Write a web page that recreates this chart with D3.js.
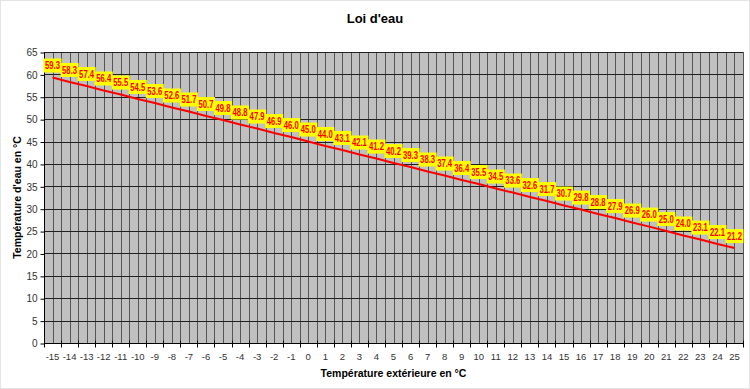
<!DOCTYPE html>
<html>
<head>
<meta charset="utf-8">
<script src="https://cdn.jsdelivr.net/npm/d3@7"></script>
<style>
  body { margin: 0; background: #fff; }
  svg { font-family: "Liberation Sans", Arial, sans-serif; }
</style>
</head>
<body>
<svg id="chart"></svg>
<script>
// outside temperature categories and water temperature
const outsideTemps = d3.range(-15, 26);
const waterTemps = [59.3, 58.3, 57.4, 56.4, 55.5, 54.5, 53.6, 52.6, 51.7, 50.7, 49.8, 48.8, 47.9, 46.9, 46.0, 45.0, 44.0, 43.1, 42.1, 41.2, 40.2, 39.3, 38.3, 37.4, 36.4, 35.5, 34.5, 33.6, 32.6, 31.7, 30.7, 29.8, 28.8, 27.9, 26.9, 26.0, 25.0, 24.0, 23.1, 22.1, 21.2];
const yTicks = d3.range(0, 70, 5);

const width = 750, height = 389;
const margin = {top: 52, right: 7, bottom: 46, left: 44};

const svg = d3.select("#chart")
    .attr("width", width)
    .attr("height", height);

svg.append("rect")
    .attr("x", 0.5).attr("y", 0.5)
    .attr("width", width - 1).attr("height", height - 1)
    .attr("fill", "#fff")
    .attr("stroke", "#e4e4e4");

const x = d3.scaleBand()
    .domain(outsideTemps)
    .range([margin.left, width - margin.right]);

const y = d3.scaleLinear()
    .domain([0, 65])
    .range([height - margin.bottom, margin.top]);

const plotW = width - margin.right - margin.left;

// plot background
svg.append("rect")
    .attr("x", margin.left)
    .attr("y", y(65))
    .attr("width", plotW)
    .attr("height", y(0) - y(65))
    .attr("fill", "#c0c0c0");

// vertical grid: category boundaries and centers
const vLines = [];
outsideTemps.forEach(t => {
    vLines.push(x(t));
    vLines.push(x(t) + x.bandwidth() / 2);
});
vLines.push(x(25) + x.bandwidth());

svg.append("g")
    .selectAll("line")
    .data(vLines)
    .join("line")
    .attr("x1", d => Math.round(d) + 0.5)
    .attr("x2", d => Math.round(d) + 0.5)
    .attr("y1", y(65))
    .attr("y2", y(0))
    .attr("stroke", "#555")
    .attr("stroke-width", 1);

// horizontal grid
svg.append("g")
    .selectAll("line")
    .data(yTicks)
    .join("line")
    .attr("x1", margin.left)
    .attr("x2", width - margin.right)
    .attr("y1", d => Math.round(y(d)) + 0.5)
    .attr("y2", d => Math.round(y(d)) + 0.5)
    .attr("stroke", "#202020");

// y axis
const yAxis = svg.append("g")
    .attr("transform", `translate(${margin.left + 0.5},0.5)`)
    .call(d3.axisLeft(y).tickValues(yTicks).tickSize(4).tickPadding(3));
yAxis.select(".domain").attr("stroke", "#000").attr("d", `M0,${y(65)}V${y(0)}`);
yAxis.selectAll("text").attr("font-size", 10).attr("fill", "#333").attr("font-family", "Liberation Sans, Arial, sans-serif");

// x axis
const xAxis = svg.append("g")
    .attr("transform", `translate(0,${Math.round(y(0)) + 0.5})`);
xAxis.append("line")
    .attr("x1", margin.left).attr("x2", width - margin.right)
    .attr("stroke", "#000");
xAxis.selectAll(".tk")
    .data(outsideTemps.map(t => x(t)).concat([x(25) + x.bandwidth()]))
    .join("line")
    .attr("class", "tk")
    .attr("x1", d => Math.round(d) + 0.5)
    .attr("x2", d => Math.round(d) + 0.5)
    .attr("y1", -3).attr("y2", 4)
    .attr("stroke", "#000");
xAxis.selectAll("text")
    .data(outsideTemps)
    .join("text")
    .attr("x", d => x(d) + x.bandwidth() / 2)
    .attr("y", 16)
    .attr("text-anchor", "middle")
    .attr("font-size", 9.5)
    .attr("fill", "#333")
    .text(d => d);

// data line
const line = d3.line()
    .x((d, i) => x(outsideTemps[i]) + x.bandwidth() / 2)
    .y(d => y(d));

svg.append("path")
    .datum(waterTemps)
    .attr("d", line)
    .attr("fill", "none")
    .attr("stroke", "#ff0000")
    .attr("stroke-width", 2);

// data labels
const labels = svg.append("g")
    .selectAll("g")
    .data(waterTemps)
    .join("g")
    .attr("transform", (d, i) => `translate(${x(outsideTemps[i]) + x.bandwidth() / 2},${y(d) - 12})`);

labels.append("rect")
    .attr("x", -9)
    .attr("y", -7)
    .attr("width", 18)
    .attr("height", 14)
    .attr("fill", "#ffff00");

labels.append("text")
    .attr("text-anchor", "middle")
    .attr("dy", "0.36em")
    .attr("font-size", 10)
    .attr("font-weight", "bold")
    .attr("fill", "#ff0000")
    .attr("textLength", 15)
    .attr("lengthAdjust", "spacingAndGlyphs")
    .text(d => d.toFixed(1));

// titles
svg.append("text")
    .attr("x", width / 2)
    .attr("y", 23)
    .attr("text-anchor", "middle")
    .attr("font-size", 13)
    .attr("font-weight", "bold")
    .text("Loi d'eau");

svg.append("text")
    .attr("x", margin.left + plotW / 2)
    .attr("y", 377)
    .attr("text-anchor", "middle")
    .attr("font-size", 10.5)
    .attr("font-weight", "bold")
    .text("Température extérieure en °C");

svg.append("text")
    .attr("transform", `translate(21,${(y(0) + y(65)) / 2}) rotate(-90)`)
    .attr("text-anchor", "middle")
    .attr("font-size", 10.5)
    .attr("font-weight", "bold")
    .text("Température d'eau en °C");
</script>
</body>
</html>
